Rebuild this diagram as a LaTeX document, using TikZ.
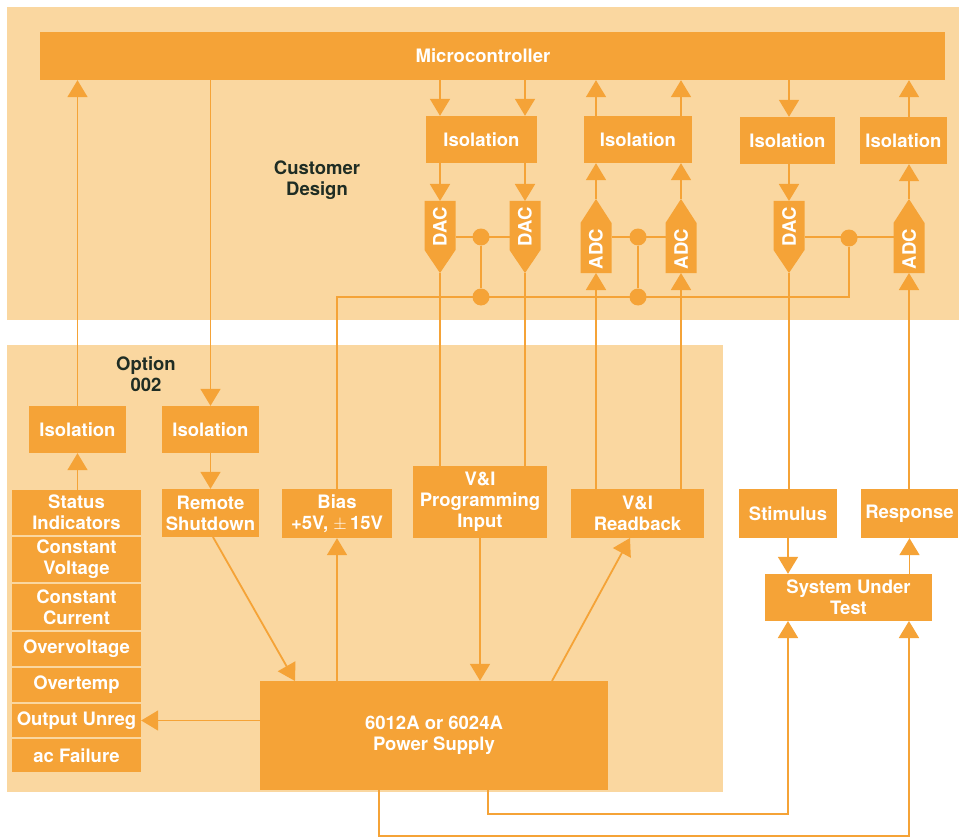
\documentclass[tikz,border=0pt]{standalone}
\usepackage{fontspec}
\setmainfont{TeX Gyre Heros}
\usetikzlibrary{arrows.meta}
\definecolor{panelc}{HTML}{FAD7A0}
\definecolor{boxc}{HTML}{F5A337}
\definecolor{darkc}{HTML}{1F2D24}
\newcommand\mydac[2]{%
  \fill[boxc] (#2-15.5,201) -- (#2+15.5,201) -- (#2+15.5,250) -- (#2,273) -- (#2-15.5,250) -- cycle;
  \node[txt,rotate=90] (#1) at (#2,227) {DAC};
  \coordinate (#1t) at (#2,201); \coordinate (#1b) at (#2,273);
  \coordinate (#1w) at (#2-15.5,237); \coordinate (#1e) at (#2+15.5,237);}
\newcommand\myadc[2]{%
  \fill[boxc] (#2,199) -- (#2+15.5,223) -- (#2+15.5,273) -- (#2-15.5,273) -- (#2-15.5,223) -- cycle;
  \node[txt,rotate=90] (#1) at (#2,249) {ADC};
  \coordinate (#1t) at (#2,199); \coordinate (#1b) at (#2,273);
  \coordinate (#1w) at (#2-15.5,237); \coordinate (#1e) at (#2+15.5,237);}
\begin{document}
\begin{tikzpicture}[x=1pt,y=-1pt,
  txt/.style={text=white,font=\fontsize{18.5}{21}\selectfont\bfseries,inner sep=0pt,align=center},
  box/.style={txt,fill=boxc,minimum width=#1},
  lbl/.style={text=darkc,font=\fontsize{18.5}{21}\selectfont\bfseries,inner sep=0pt,align=center},
  wire/.style={draw=boxc,line width=1.8pt},
  arr/.style={wire,-{Triangle[width=20pt,length=17pt]}},
  dot/.style={circle,fill=boxc,minimum size=17pt,inner sep=0pt}]
\useasboundingbox (0,0) rectangle (959,840);
\fill[white] (0,0) rectangle (959,840);
% panels
\fill[panelc] (7,7) rectangle (959,320);
\fill[panelc] (7,345) rectangle (723,792);
% labels
\node[lbl] (cust) at (317,180) {Customer\\Design};
\node[lbl] (opt) at (146,374) {Option\\002};
% top row
\node[box=905pt,minimum height=48pt,text width=905pt,xshift=0pt] (micro) at (492.5,56) {\hspace*{-19pt}Microcontroller};
\node[box=111pt,minimum height=47pt] (iso1) at (481.5,139.5) {Isolation};
\node[box=108pt,minimum height=47pt] (iso2) at (638,139.5) {Isolation};
\node[box=95pt,minimum height=47pt] (iso3) at (787.5,140.5) {Isolation};
\node[box=87pt,minimum height=47pt] (iso4) at (903.5,140.5) {Isolation};
\mydac{dac1}{440}
\mydac{dac2}{525}
\myadc{adc1}{596}
\myadc{adc2}{681}
\mydac{dac3}{789}
\myadc{adc4}{909}
% left column
\node[box=97pt,minimum height=47pt] (isoL) at (77.5,429.5) {Isolation};
\node[box=97pt,minimum height=47pt] (isoR) at (210.5,429.5) {Isolation};
\node[box=129pt,minimum height=45pt] (st1) at (76.5,512.5) {Status\\Indicators};
\node[box=129pt,minimum height=45pt] (st2) at (76.5,559.5) {Constant\\Voltage};
\node[box=129pt,minimum height=46pt] (st3) at (76.5,607) {Constant\\Current};
\node[box=129pt,minimum height=34pt] (st4) at (76.5,649) {Overvoltage};
\node[box=129pt,minimum height=34pt] (st5) at (76.5,685) {Overtemp};
\node[box=129pt,minimum height=33pt] (st6) at (76.5,720.5) {Output Unreg};
\node[box=129pt,minimum height=33pt] (st7) at (76.5,755.5) {ac Failure};
\node[box=97pt,minimum height=48pt] (remote) at (210.5,513) {Remote\\Shutdown};
\node[box=110pt,minimum height=49pt] (bias) at (337,513.5) {Bias\\+5V, $\pm$\,15V};
\node[box=134pt,minimum height=72pt] (prog) at (480,502) {V\&I\\Programming\\Input};
\node[box=133pt,minimum height=49pt] (rdbk) at (637.5,513.5) {V\&I\\Readback};
\node[box=348pt,minimum height=109pt] (psu) at (434,735.5) {6012A or 6024A\\Power Supply};
\node[box=98pt,minimum height=49pt] (stim) at (788,513.5) {Stimulus};
\node[box=97pt,minimum height=49pt] (resp) at (909.5,513.5) {Response};
\node[box=167pt,minimum height=47pt] (sut) at (848.5,597.5) {System Under\\Test};
% junction dots
\node[dot] (j1) at (481,237) {};
\node[dot] (j2) at (481,297) {};
\node[dot] (j3) at (638,237) {};
\node[dot] (j4) at (638,297) {};
\node[dot] (j5) at (849,238) {};
% left connectors
\draw[arr] (isoL.north) -- (isoL.north |- micro.south);
\draw[arr] (isoR.north |- micro.south) -- (isoR.north);
\draw[arr] (st1.north -| isoL.south) -- (isoL.south);
\draw[arr] (isoR.south) -- (remote.north);
% micro <-> isolation
\draw[arr] (dac1t |- micro.south) -- (dac1t |- iso1.north);
\draw[arr] (dac2t |- micro.south) -- (dac2t |- iso1.north);
\draw[arr] (adc1t |- iso2.north) -- (adc1t |- micro.south);
\draw[arr] (adc2t |- iso2.north) -- (adc2t |- micro.south);
\draw[arr] (dac3t |- micro.south) -- (dac3t |- iso3.north);
\draw[arr] (adc4t |- iso4.north) -- (adc4t |- micro.south);
% isolation <-> converters
\draw[arr] (dac1t |- iso1.south) -- (dac1t);
\draw[arr] (dac2t |- iso1.south) -- (dac2t);
\draw[arr] (adc1t) -- (adc1t |- iso2.south);
\draw[arr] (adc2t) -- (adc2t |- iso2.south);
\draw[arr] (dac3t |- iso3.south) -- (dac3t);
\draw[arr] (adc4t) -- (adc4t |- iso4.south);
% converters <-> lower boxes
\draw[wire] (dac1b) -- (dac1b |- prog.north);
\draw[wire] (dac2b) -- (dac2b |- prog.north);
\draw[arr] (adc1b |- rdbk.north) -- (adc1b);
\draw[arr] (adc2b |- rdbk.north) -- (adc2b);
\draw[wire] (dac3b) -- (dac3b |- stim.north);
\draw[arr] (adc4b |- resp.north) -- (adc4b);
% common lines
\draw[wire] (dac1e) -- (dac2w);
\draw[wire] (adc1e) -- (adc2w);
\draw[wire] (dac3e) -- (adc4w);
\draw[wire] (j1) -- (j2);
\draw[wire] (j3) -- (j4);
\draw[wire] (bias.north) -- (bias.north |- j2) -- (j2 -| j5) -- (j5);
% power supply connections
\draw[arr] (psu.north -| bias.south) -- (bias.south);
\draw[arr] (prog.south) -- (prog.south |- psu.north);
\draw[arr] (552,681) -- (630,538);
\draw[arr] (213,537) -- (295,681);
\draw[arr] (psu.west |- st6.east) -- (st6.east);
% system under test
\draw[arr] (stim.south) -- (stim.south |- sut.north);
\draw[arr] (resp.south |- sut.north) -- (resp.south);
\coordinate (pa) at (379,790);
\coordinate (pb) at (488,790);
\draw[arr] (pa) -- (379,836) -- (909,836) -- (909,621);
\draw[arr] (pb) -- (488,814) -- (788,814) -- (788,621);
\end{tikzpicture}
\end{document}
